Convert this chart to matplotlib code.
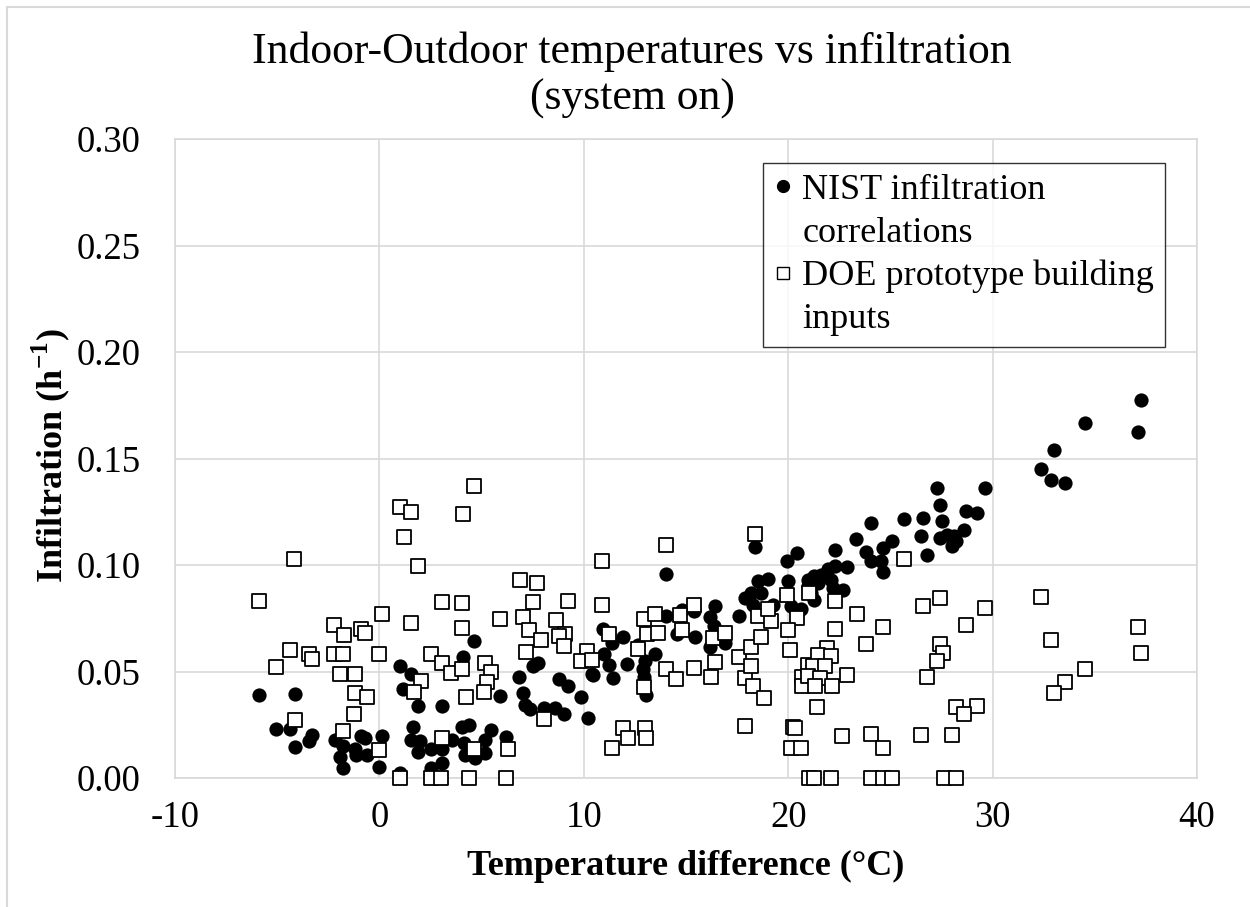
import matplotlib
matplotlib.use("Agg")
import matplotlib.pyplot as plt
from matplotlib.patches import Rectangle
from matplotlib.lines import Line2D

# NIST infiltration correlations (temperature difference, infiltration)
nist_x = [-5.9, -4.15, -5.06, -4.37, -3.3, -3.46, -4.13, -2.18, -1.77, -1.19, -1.92, -1.15,
          -0.63, -0.91, -0.7, 0.11, -1.76, -0.02,
          4.62, 4.11, 0.99, 1.55, 1.15, 1.89, 3.04, 5.92, 6.85, 7.51, 7.74, 7.02, 7.14, 7.35,
          8.03, 8.6, 9.04, 8.8, 9.25, 9.87, 10.2, 10.42,
          1.66, 1.53, 2.01, 1.89, 2.54, 3.04, 3.04, 2.54, 3.56, 4.05, 4.37, 4.13, 4.21, 4.7,
          5.19, 5.19, 5.46, 6.21, 0.99,
          18.4, 14.0, 20.42, 19.95, 19.0, 18.52, 20.01, 17.87, 18.2, 18.68, 18.28, 19.25, 20.15,
          20.63, 20.96, 17.6, 16.41, 16.16, 16.38, 16.16, 16.9, 15.43, 15.41, 14.78, 14.0, 14.54,
          10.96, 11.4, 11.94, 10.99, 11.23, 10.47, 11.41, 12.13, 12.67, 13.48, 12.99, 12.91,
          12.96, 13.04,
          27.27, 29.62, 27.43, 28.68, 29.22, 25.67, 26.6, 27.5, 24.03, 28.6, 26.49, 27.43, 27.79,
          28.11, 28.2, 28.0, 26.81, 23.33, 25.1, 24.62, 23.8, 24.05, 24.54, 24.62, 22.31, 22.88,
          22.31, 21.94, 21.61, 21.28, 22.1, 21.45, 20.96, 22.18, 22.67, 21.28, 21.12,
          37.27, 34.54, 37.1, 33.02, 32.37, 32.86, 33.53]
nist_y = [0.039, 0.0395, 0.023, 0.023, 0.020, 0.0175, 0.0147, 0.018, 0.015, 0.0135, 0.010, 0.011,
          0.011, 0.0195, 0.0187, 0.0195, 0.0045, 0.0053,
          0.0643, 0.057, 0.0528, 0.049, 0.0417, 0.0336, 0.0339, 0.0386, 0.0473, 0.0528, 0.0542,
          0.040, 0.0343, 0.0322, 0.0327, 0.033, 0.0301, 0.0467, 0.043, 0.0378, 0.0284, 0.049,
          0.0241, 0.018, 0.0176, 0.0124, 0.0135, 0.0135, 0.0069, 0.0046, 0.0179, 0.0241, 0.0249,
          0.0163, 0.0108, 0.0092, 0.0116, 0.0179, 0.0226, 0.0194, 0.0025,
          0.1085, 0.0958, 0.1057, 0.102, 0.0934, 0.0923, 0.0926, 0.0845, 0.0868, 0.0868, 0.0813,
          0.0813, 0.0806, 0.0793, 0.0931, 0.0759, 0.0809, 0.0756, 0.0712, 0.0613, 0.0634, 0.066,
          0.0782, 0.079, 0.0759, 0.0676,
          0.0699, 0.0633, 0.0664, 0.0583, 0.0531, 0.0484, 0.0469, 0.0536, 0.0625, 0.0581, 0.0547,
          0.0513, 0.0476, 0.039,
          0.1362, 0.1362, 0.1284, 0.1252, 0.1245, 0.1218, 0.1221, 0.1206, 0.1198, 0.1166, 0.1135,
          0.1127, 0.1143, 0.1135, 0.1111, 0.1091, 0.1045, 0.1124, 0.1111, 0.108, 0.1059, 0.1017,
          0.1017, 0.0965, 0.1069, 0.0989, 0.0994, 0.0981, 0.0955, 0.0947, 0.0931, 0.0916, 0.09,
          0.0892, 0.0884, 0.0837, 0.0868,
          0.1774, 0.1668, 0.1624, 0.1539, 0.1453, 0.1401, 0.1386]

# DOE prototype building inputs
doe_x = [-4.16, -5.9, 0.13, -2.2, -1.75, -0.88, -0.7, -4.36, -3.46, -3.3, -2.2, -1.8, -0.02, -5.06,
         -1.94, -1.19, -1.19, -0.63, -1.23, -4.13, -1.76, -0.03,
         4.63, 0.99, 1.56, 4.11, 1.19, 1.89, 6.86, 7.72, 10.9, 3.06, 4.03, 7.53, 9.22, 10.9, 1.56,
         4.03, 5.92, 7.02, 7.32, 8.62, 7.92, 9.09, 8.77, 9.01, 10.18, 9.87, 10.42, 7.16, 2.54,
         3.07, 3.5, 4.03, 5.19, 5.46, 5.25, 5.1, 4.23, 2.03, 1.69, 3.07, 4.63, 6.28, 8.03,
         0.99, 2.5, 3.0, 4.36, 6.21,
         18.4, 14.0, 12.94, 13.5, 15.41, 14.7, 11.23, 13.07, 13.64, 14.81, 12.67, 14.03, 14.52,
         15.41, 16.21, 16.41, 16.33, 16.9, 12.96, 17.58, 17.9, 18.2, 18.2, 18.65, 18.28, 18.84,
         18.52, 19.17, 19.0, 19.94, 20.42, 20.01, 20.1, 20.68, 20.68, 20.96, 11.94, 12.15, 11.37,
         12.99, 13.04, 17.9, 20.23, 20.31, 20.15, 20.63,
         25.67, 21.0, 22.31, 23.35, 22.31, 24.63, 26.6, 27.43, 29.62, 28.72, 23.8, 27.43, 27.55,
         27.27, 26.81, 21.9, 21.45, 22.1, 21.2, 21.8, 20.96, 21.56, 22.88, 21.32, 22.13, 21.4,
         28.2, 29.22, 28.6, 22.65, 24.05, 24.62, 26.49, 28.0,
         21.0, 21.28, 22.1, 24.05, 24.62, 25.06, 27.63, 28.2,
         32.37, 37.1, 32.88, 37.27, 34.54, 33.53, 33.02]
doe_y = [0.103, 0.083, 0.077, 0.072, 0.067, 0.070, 0.068, 0.060, 0.058, 0.056, 0.058, 0.058, 0.058,
         0.052, 0.049, 0.049, 0.040, 0.038, 0.030, 0.027, 0.022, 0.013,
         0.137, 0.127, 0.125, 0.124, 0.113, 0.0997, 0.093, 0.0914, 0.102, 0.0826, 0.082, 0.0825,
         0.0832, 0.081, 0.073, 0.0704, 0.0746, 0.0757, 0.0694, 0.074, 0.065, 0.0677, 0.0665,
         0.062, 0.0594, 0.055, 0.0555, 0.0593, 0.058, 0.054, 0.0495, 0.0514, 0.0538, 0.050,
         0.045, 0.0406, 0.038, 0.0456, 0.0406, 0.0187, 0.0135, 0.0136, 0.0277,
         0.0, 0.0, 0.0, 0.0, 0.0,
         0.1146, 0.1092, 0.0748, 0.077, 0.081, 0.0763, 0.0677, 0.0677, 0.0683, 0.0693, 0.0605,
         0.0511, 0.0464, 0.0516, 0.0472, 0.0544, 0.0657, 0.068, 0.0426, 0.0566, 0.0469, 0.0617,
         0.0524, 0.0664, 0.043, 0.0375, 0.0759, 0.0738, 0.0793, 0.0857, 0.0751, 0.0697, 0.0602,
         0.0476, 0.0433, 0.0531, 0.0234, 0.019, 0.014, 0.0237, 0.019, 0.0245, 0.0241, 0.0234,
         0.014, 0.014,
         0.103, 0.0868, 0.0829, 0.077, 0.07, 0.0708, 0.0809, 0.0845, 0.08, 0.0716, 0.0628, 0.063,
         0.0586, 0.0547, 0.0476, 0.061, 0.0578, 0.0574, 0.0528, 0.0528, 0.048, 0.0471, 0.0483,
         0.0433, 0.0433, 0.0331, 0.0335, 0.0339, 0.03, 0.0198, 0.0205, 0.014, 0.0202, 0.0202,
         0.0, 0.0, 0.0, 0.0, 0.0, 0.0, 0.0, 0.0,
         0.0848, 0.0707, 0.0646, 0.0589, 0.0514, 0.0451, 0.0398]

x_ticks = [-10, 0, 10, 20, 30, 40]
y_ticks = [0.00, 0.05, 0.10, 0.15, 0.20, 0.25, 0.30]

plt.rcParams['font.family'] = ['Liberation Serif', 'DejaVu Serif']
plt.rcParams['mathtext.fontset'] = 'custom'
plt.rcParams['mathtext.rm'] = 'Liberation Serif'
plt.rcParams['mathtext.bf'] = 'Liberation Serif:bold'
plt.rcParams['axes.unicode_minus'] = False

grid_col = '#d9d9d9'

fig = plt.figure(figsize=(12.5, 9.07), dpi=100)
ax = fig.add_axes([175 / 1250, 1 - 778 / 907, 1022 / 1250, 639 / 907])

# outer chart frame (only left and top edges visible)
fig.patches.append(Rectangle((7 / 1250, -0.2), 1.2, 1.2 - 7 / 907,
                             transform=fig.transFigure, fill=False,
                             edgecolor=grid_col, linewidth=1.5))

ax.scatter(nist_x, nist_y, s=105, marker='o', color='black', linewidths=0,
           zorder=3, clip_on=False)
ax.scatter(doe_x, doe_y, s=95, marker='s', facecolor='white', edgecolor='black',
           linewidths=1.3, zorder=4, clip_on=False)

ax.set_xlim(-10, 40)
ax.set_ylim(0, 0.30)
ax.set_xticks(x_ticks)
ax.set_yticks(y_ticks)
ax.set_yticklabels([f'{v:.2f}' for v in y_ticks])
ax.tick_params(axis='both', length=0, labelsize=26.5)
ax.tick_params(axis='x', pad=16)
ax.tick_params(axis='y', pad=25)
ax.grid(True, color=grid_col, linewidth=1.2)
ax.set_axisbelow(True)
for sp in ax.spines.values():
    sp.set_color(grid_col)
    sp.set_linewidth(1.2)

ax.set_xlabel('Temperature difference (°C)', fontsize=26, fontweight='bold')
ax.xaxis.set_label_coords(0.5, -0.112)
ax.set_ylabel(r'Infiltration (h$^{\mathbf{-1}}$)', fontsize=26, fontweight='bold')
ax.yaxis.set_label_coords(-0.101, 0.504)

fig.text(632 / 1250, 1 - 75 / 907, 'Indoor-Outdoor temperatures vs infiltration\n(system on)',
         ha='center', va='center', fontsize=31.5, linespacing=1.2)

# legend: marker sits on the first line of each wrapped label
blank = Line2D([], [], linestyle='none', marker='')
handles = [
    Line2D([], [], linestyle='none', marker='o', color='black', markersize=8.5),
    blank,
    Line2D([], [], linestyle='none', marker='s', markerfacecolor='white',
           markeredgecolor='black', markeredgewidth=1.0, markersize=8),
    blank,
]
labels = ['NIST infiltration', 'correlations', 'DOE prototype building', 'inputs']
leg = ax.legend(handles, labels, loc='upper left', bbox_to_anchor=(0.575, 0.9624),
                borderaxespad=0, fontsize=26, frameon=True, fancybox=False,
                handlelength=0.5, handletextpad=0.3, labelspacing=0.27,
                borderpad=0.3)
leg.get_frame().set_edgecolor('black')
leg.get_frame().set_linewidth(1.0)

fig.savefig('out.png', dpi=100)
